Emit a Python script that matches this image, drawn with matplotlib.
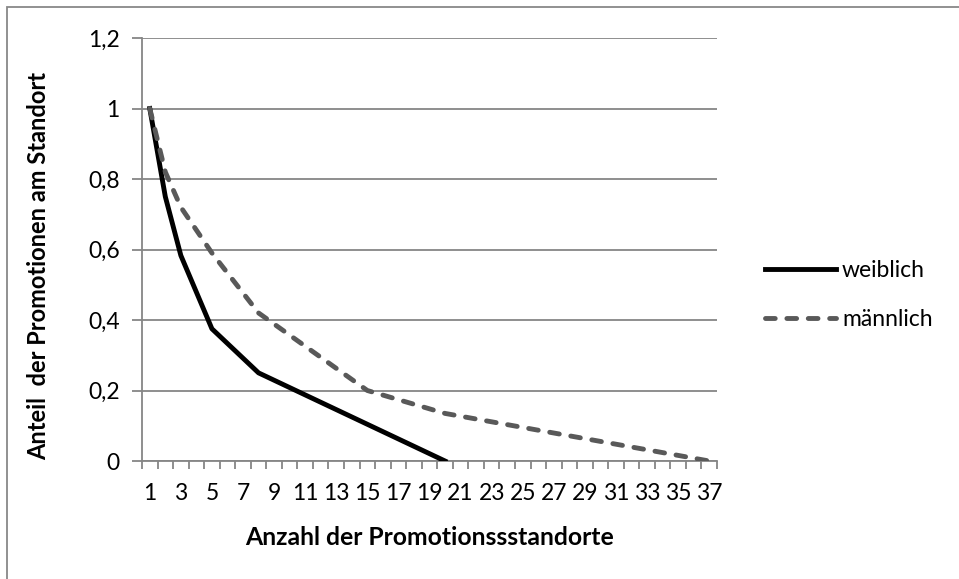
import numpy as np
import matplotlib.pyplot as plt
from matplotlib.patches import Rectangle

plt.rcParams['font.family'] = ['Lato', 'DejaVu Sans']

# Anzahl der Promotionsstandorte (Kategorien 1..37)
categories = list(range(1, 38))
tick_labels = [str(c) if c % 2 == 1 else '' for c in categories]

# Stützstellen der beiden Kurven
weiblich_x = [1, 2, 3, 4, 5, 8, 20]
weiblich_y = [1.0, 0.75, 0.583, 0.479, 0.375, 0.25, 0.0]

maennlich_x = [1, 2, 3, 4, 5, 8, 15, 20, 37]
maennlich_y = [1.0, 0.82, 0.72, 0.655, 0.59, 0.42, 0.2, 0.135, 0.0]

y_ticks = [0, 0.2, 0.4, 0.6, 0.8, 1.0, 1.2]
y_tick_labels = ['0', '0,2', '0,4', '0,6', '0,8', '1', '1,2']

GRID = '#868686'
FS = 16.5

fig = plt.figure(figsize=(9.59, 5.79), dpi=100)
ax = fig.add_axes([142 / 959, 1 - 461 / 579, 575 / 959, 423 / 579])

# Rahmen um das Diagramm
fig.patches.append(Rectangle((7 / 959, -0.1), 1.2, (1 - 7 / 579) + 0.1,
                             transform=fig.transFigure, fill=False,
                             edgecolor='#888888', linewidth=1.3))

ax.plot(weiblich_x, weiblich_y, color='black', linewidth=3.5,
        solid_joinstyle='round', label='weiblich', zorder=3)
ax.plot(maennlich_x, maennlich_y, color='#595959', linewidth=3.5,
        linestyle=(0, (2.0, 2.4)), dash_capstyle='round',
        dash_joinstyle='round', label='männlich', zorder=3)

ax.set_xlim(0.5, 37.5)
ax.set_ylim(0, 1.2)

ax.set_yticks(y_ticks)
ax.set_yticklabels(y_tick_labels)
ax.yaxis.grid(True, color=GRID, linewidth=1.3)
ax.set_axisbelow(True)

# Teilstriche zwischen den Kategorien, Beschriftung in der Mitte
ax.set_xticks(np.arange(0.5, 38.0, 1.0))
ax.set_xticklabels([])
ax.set_xticks(categories, minor=True)
ax.set_xticklabels(tick_labels, minor=True)
ax.tick_params(axis='x', which='major', length=6, width=1.3, color=GRID)
ax.tick_params(axis='x', which='minor', length=0, pad=16, labelsize=FS)
ax.tick_params(axis='y', length=7, width=1.3, color=GRID, pad=9, labelsize=FS)

for side in ['top', 'right']:
    ax.spines[side].set_visible(False)
for side in ['left', 'bottom']:
    ax.spines[side].set_color(GRID)
    ax.spines[side].set_linewidth(1.3)

ax.set_xlabel('Anzahl der Promotionssstandorte', fontsize=17.8,
              fontweight='bold', va='center')
ax.xaxis.set_label_coords(0.5, -0.182)
ax.set_ylabel('Anteil  der Promotionen am Standort', fontsize=17,
              fontweight='bold', va='center')
ax.yaxis.set_label_coords(-0.179, 0.461)

ax.legend(loc='center left', bbox_to_anchor=(1.0835, 0.392), frameon=False,
          fontsize=FS, handlelength=3.1, handletextpad=0.26,
          labelspacing=1.2, borderpad=0, borderaxespad=0)

fig.savefig('out.png', dpi=100)
